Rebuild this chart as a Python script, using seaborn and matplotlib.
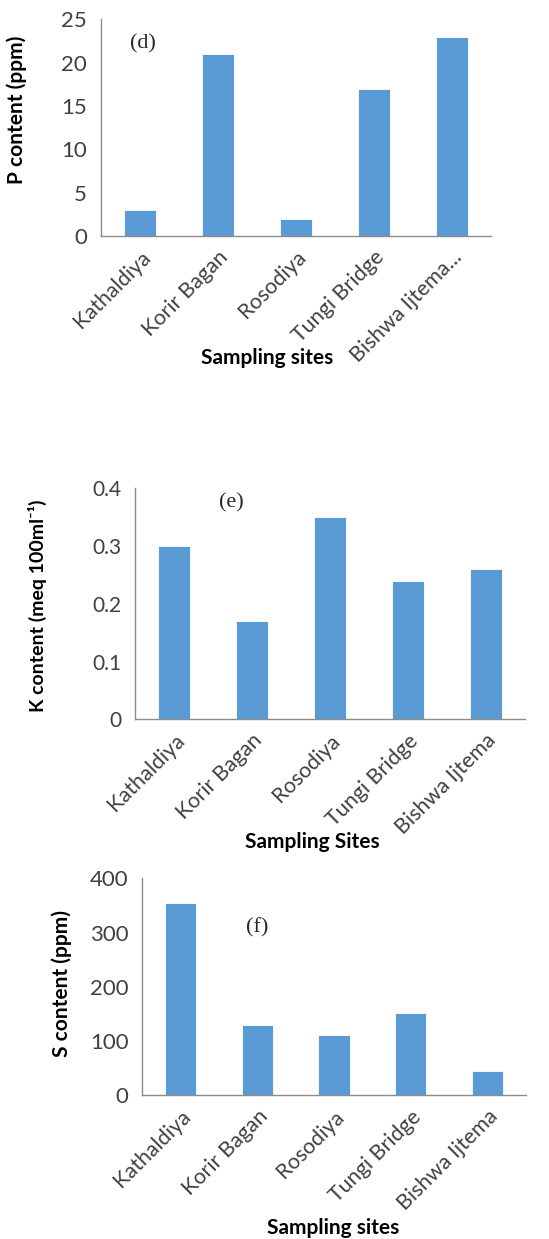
import matplotlib
matplotlib.use("Agg")
import matplotlib.pyplot as plt
import seaborn as sns
import pandas as pd

sns.set_theme(style="white")
plt.rcParams["font.family"] = ["Lato", "DejaVu Sans"]

sites_short = ["Kathaldiya", "Korir Bagan", "Rosodiya", "Tungi Bridge", "Bishwa Ijtema..."]
sites = ["Kathaldiya", "Korir Bagan", "Rosodiya", "Tungi Bridge", "Bishwa Ijtema"]

p_ppm = [3, 21, 2, 17, 23]
k_meq = [0.30, 0.17, 0.35, 0.24, 0.26]
s_ppm = [354, 129, 112, 152, 44]

p_ticks = [0, 5, 10, 15, 20, 25]
k_ticks = [0, 0.1, 0.2, 0.3, 0.4]
s_ticks = [0, 100, 200, 300, 400]

BAR = "#5B9BD5"
AXIS = "#8C8C8C"
TICKTXT = "#404040"

fig = plt.figure(figsize=(5.49, 12.39), dpi=100)


def panel(rect, labels, values, yticks, ylabel, xlabel, tag, tag_xy,
          ylab_xy, xlab_xy, ysize, ylsize):
    ax = fig.add_axes(rect)
    df = pd.DataFrame({"site": labels, "value": values})
    sns.barplot(data=df, x="site", y="value", color=BAR, width=0.41,
                saturation=1, edgecolor="white", linewidth=0.6, ax=ax)
    n = len(labels)
    ax.set_xlim(-0.5, n - 0.5)
    ax.set_ylim(yticks[0], yticks[-1])
    ax.set_yticks(yticks)
    ax.set_yticklabels([f"{t:g}" for t in yticks], fontsize=ysize, color=TICKTXT)
    # tick marks sit on the category boundaries, labels on the category centres
    ax.set_xticks([i - 0.5 for i in range(n + 1)], minor=False)
    ax.set_xticklabels([""] * (n + 1))
    ax.set_xticks(range(n), minor=True)
    ax.set_xticklabels(labels, minor=True, rotation=45, ha="right",
                       rotation_mode="anchor", fontsize=15.5, color=TICKTXT)
    ax.tick_params(axis="x", which="minor", length=0, pad=8)
    ax.tick_params(axis="x", which="major", length=5, width=1, color=AXIS, direction="out")
    ax.tick_params(axis="y", length=6, width=1, color=AXIS, direction="out", pad=4)
    for side in ("top", "right"):
        ax.spines[side].set_visible(False)
    for side in ("left", "bottom"):
        ax.spines[side].set_color(AXIS)
        ax.spines[side].set_linewidth(1)
    ax.set_ylabel(ylabel, fontsize=ylsize, fontweight="bold", color="black")
    ax.yaxis.set_label_coords(*ylab_xy)
    ax.yaxis.label.set_va("center")
    ax.set_xlabel(xlabel, fontsize=15, fontweight="bold", color="black")
    ax.xaxis.set_label_coords(*xlab_xy)
    ax.xaxis.label.set_va("center")
    ax.text(tag_xy[0], tag_xy[1], tag, transform=ax.transAxes, fontsize=16,
            family="Liberation Serif", ha="center", va="center")
    return ax


panel([101 / 549, 1 - 236 / 1239, 390 / 549, 216.7 / 1239], sites_short, p_ppm,
      p_ticks, "P content (ppm)", "Sampling sites", "(d)", (0.108, 0.885),
      (-0.215, 0.581), (0.426, -0.563), 16, 15)
panel([135 / 549, 1 - 719.3 / 1239, 390 / 549, 231 / 1239], sites, k_meq,
      k_ticks, "K content (meq 100ml\u207B\u00B9)", "Sampling Sites", "(e)", (0.247, 0.938),
      (-0.249, 0.493), (0.454, -0.531), 15, 14)
panel([142.3 / 549, 1 - 1095.3 / 1239, 383.5 / 549, 217 / 1239], sites, s_ppm,
      s_ticks, "S content (ppm)", "Sampling sites", "(f)", (0.300, 0.773),
      (-0.209, 0.513), (0.497, -0.611), 16, 15)

fig.savefig("out.png", dpi=100)
